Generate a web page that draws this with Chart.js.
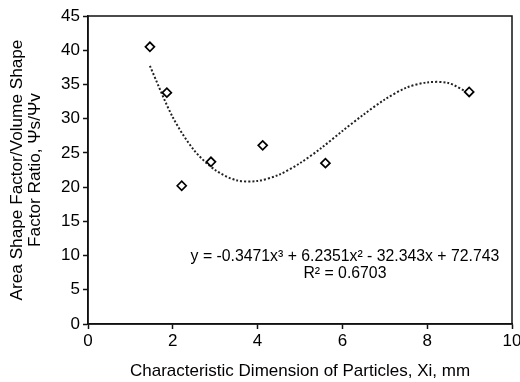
<!DOCTYPE html>
<html>
<head>
<meta charset="utf-8">
<script src="https://cdn.jsdelivr.net/npm/chart.js@4/dist/chart.umd.min.js"></script>
<style>
  html, body { margin: 0; padding: 0; background: #fff; }
  #wrap { width: 520px; height: 382px; }
</style>
</head>
<body>
<div id="wrap"><canvas id="chart" width="520" height="382"></canvas></div>
<script>
// measured points (particle size vs shape factor ratio)
const sizeX  = [1.46, 1.86, 2.21, 2.90, 4.12, 5.60, 8.99];
const ratioY = [40.5, 33.8, 20.2, 23.7, 26.1, 23.5, 33.9];

// dotted polynomial trendline
const trendX = [1.46, 2, 2.5, 3, 3.5, 4, 4.5, 5, 5.5, 6, 6.5, 7, 7.5, 8, 8.5, 8.99];
const trendY = [37.7, 30.2, 25.4, 22.5, 21.0, 20.9, 21.8, 23.5, 25.7, 28.2, 30.6, 32.8, 34.5, 35.3, 35.2, 33.7];

const xTicks = [0, 2, 4, 6, 8, 10];
const yTicks = [0, 5, 10, 15, 20, 25, 30, 35, 40, 45];

const eqLines = ['y = -0.3471x³ + 6.2351x² - 32.343x + 72.743', 'R² = 0.6703'];
const eqPos = [[6.06, 9.85], [6.06, 7.35]];

const FONT = "'Liberation Sans', Arial, sans-serif";

// box round the plot + equation text
const extras = {
  id: 'extras',
  afterDatasetsDraw(chart) {
    const { ctx, chartArea: a, scales } = chart;
    ctx.save();
    ctx.strokeStyle = '#111';
    ctx.lineWidth = 1.5;
    ctx.strokeRect(a.left, a.top, a.right - a.left, a.bottom - a.top);
    ctx.fillStyle = '#000';
    ctx.font = '15.8px ' + FONT;
    ctx.textAlign = 'center';
    ctx.textBaseline = 'middle';
    eqLines.forEach((t, i) => {
      ctx.fillText(t, scales.x.getPixelForValue(eqPos[i][0]), scales.y.getPixelForValue(eqPos[i][1]));
    });
    ctx.restore();
  }
};

new Chart(document.getElementById('chart'), {
  type: 'scatter',
  data: {
    datasets: [
      {
        label: 'trend',
        data: trendX.map((x, i) => ({ x, y: trendY[i] })),
        showLine: true,
        borderColor: '#222',
        borderWidth: 2,
        borderDash: [2, 2],
        pointRadius: 0,
        tension: 0.3,
        order: 2
      },
      {
        label: 'data',
        data: sizeX.map((x, i) => ({ x, y: ratioY[i] })),
        pointStyle: 'rectRot',
        pointRadius: 4.5,
        pointBackgroundColor: '#fff',
        pointBorderColor: '#000',
        pointBorderWidth: 1.7,
        order: 1
      }
    ]
  },
  options: {
    responsive: false,
    animation: false,
    layout: { padding: { top: 16, right: 8, left: 8, bottom: 0 } },
    plugins: { legend: { display: false }, tooltip: { enabled: false } },
    scales: {
      x: {
        type: 'linear',
        min: 0, max: 10,
        afterBuildTicks: s => { s.ticks = xTicks.map(v => ({ value: v })); },
        afterFit: s => { s.height = 58; s.paddingLeft = 0; s.paddingRight = 0; },
        grid: { drawOnChartArea: false, tickLength: 5, tickColor: '#111', tickWidth: 1.5 },
        border: { color: '#111', width: 1.5 },
        ticks: { color: '#000', font: { family: FONT, size: 17 }, padding: 2, maxRotation: 0 },
        title: {
          display: true,
          text: 'Characteristic Dimension of Particles, Xi, mm',
          color: '#000',
          font: { family: FONT, size: 17 },
          padding: { top: 3, bottom: 0 }
        }
      },
      y: {
        type: 'linear',
        min: 0, max: 45,
        afterBuildTicks: s => { s.ticks = yTicks.map(v => ({ value: v })); },
        afterFit: s => { s.width = 80; s.paddingTop = 0; s.paddingBottom = 0; },
        grid: { drawOnChartArea: false, tickLength: 5, tickColor: '#111', tickWidth: 1.5 },
        border: { color: '#111', width: 1.5 },
        ticks: { color: '#000', font: { family: FONT, size: 17 }, padding: 3 },
        title: {
          display: true,
          text: ['Area Shape Factor/Volume Shape', 'Factor Ratio, Ψs/Ψv'],
          color: '#000',
          font: { family: FONT, size: 17.2, lineHeight: 1.05 },
          padding: { top: 0, bottom: 4 }
        }
      }
    }
  },
  plugins: [extras]
});
</script>
</body>
</html>
